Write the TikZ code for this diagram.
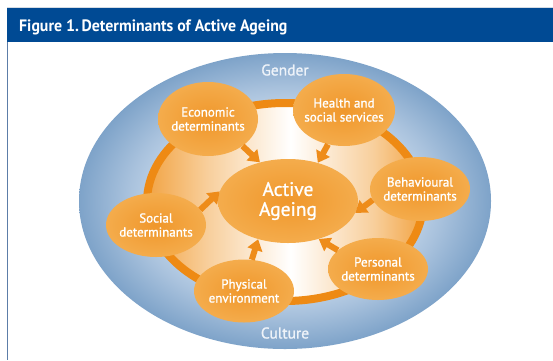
\documentclass[tikz,border=0pt]{standalone}
\usepackage{fontspec}
\setmainfont{PT Sans}
\newfontfamily\semib{PT Sans}[FakeBold=1.2]
\usetikzlibrary{shapes.geometric,arrows.meta}
\definecolor{bannerblue}{HTML}{004A94}
\definecolor{framegray}{HTML}{5C7DA8}
\definecolor{toplinegray}{HTML}{D5DCE4}
\definecolor{bluelight}{HTML}{BBD0E6}
\definecolor{bluemid}{HTML}{A9C2DD}
\definecolor{bluedark}{HTML}{7EA3C9}
\definecolor{ringorange}{HTML}{EE8A14}
\definecolor{orsoft}{HTML}{F2A444}
\definecolor{orpale}{HTML}{F8CF9C}
\definecolor{nodein}{HTML}{F0972B}
\definecolor{nodeout}{HTML}{F4AC4C}
\definecolor{arrowor}{HTML}{EE8C1A}
\definecolor{ringtext}{HTML}{EEF3F9}
\pgfdeclareradialshading{blueshade}{\pgfpoint{0bp}{0bp}}{color(0bp)=(bluelight); color(16bp)=(bluelight); color(19bp)=(bluemid); color(25bp)=(bluedark); color(50bp)=(bluedark)}
\pgfdeclarehorizontalshading{ringshade}{100bp}{color(0bp)=(orsoft); color(25bp)=(orsoft); color(36bp)=(orpale); color(51bp)=(white); color(66bp)=(orpale); color(75bp)=(orsoft); color(100bp)=(orsoft)}
\tikzset{
  detnode/.style={ellipse, inner ysep=0pt, inner xsep=-16pt, minimum width=100pt, minimum height=64pt,
    inner color=nodein, outer color=nodeout, text=white, align=center,
    font=\semib\fontsize{13}{14}\selectfont},
  centrenode/.style={ellipse, inner ysep=0pt, inner xsep=-5pt, minimum width=140pt, minimum height=84pt,
    inner color=nodein, outer color=nodeout, text=white, align=center,
    font=\semib\fontsize{19.5}{20}\selectfont},
  ringlabel/.style={text=ringtext, font=\semib\fontsize{15.5}{17}\selectfont},
  detarrow/.style={draw=arrowor, line width=6pt, -{Triangle[width=15pt,length=11pt]}}
}
\begin{document}
\begin{tikzpicture}[x=1pt,y=-1pt]
\useasboundingbox (0,0) rectangle (553,360);
\fill[white] (0,0) rectangle (553,360);
% frame and banner
\draw[toplinegray, line width=1pt] (7,7) -- (553,7);
\fill[bannerblue] (7,8) rectangle (553,42);
\draw[framegray, line width=1pt] (7.5,42) -- (7.5,360);
\node[anchor=base west, text=white, inner sep=0pt, font=\bfseries\fontsize{16.5}{18}\selectfont] (title) at (19,31) {\scalebox{0.96}[1]{Figure 1.\,Determinants of Active Ageing}};
% outer blue ellipse
\shade[shading=blueshade] (285,201) ellipse [x radius=206, y radius=148];
% ring interior and ring
\shade[shading=ringshade] (285,202) ellipse [x radius=138, y radius=99];
\draw[ringorange, line width=8pt] (285,202) ellipse [x radius=138, y radius=99];
% labels on blue
\node[ringlabel] (gender) at (285,70) {Gender};
\node[ringlabel] (culture) at (285,333) {Culture};
% nodes
\node[centrenode] (act) at (288,201) {Active\\Ageing};
\node[detnode, minimum width=100pt, minimum height=74pt] (eco) at (208,119) {Economic\\determinants};
\node[detnode, minimum width=102pt, minimum height=72pt] (hea) at (344,110) {Health and\\social services};
\node[detnode, minimum height=64pt] (beh) at (420,189) {Behavioural\\determinants};
\node[detnode, minimum height=64pt] (soc) at (156,225) {Social\\determinants};
\node[detnode, minimum height=63pt] (phy) at (244,291) {Physical\\environment};
\node[detnode, minimum height=62pt] (per) at (378,269) {Personal\\determinants};
% arrows
\draw[detarrow] (eco.-38) -- (act.126);
\draw[detarrow] (hea.245) -- (act.52);
\draw[detarrow] (beh.193) -- (act.350);
\draw[detarrow] (soc.19) -- (act.172);
\draw[detarrow] (per.155) -- (act.309);
\draw[detarrow] (phy.76) -- (act.232);
\end{tikzpicture}
\end{document}
